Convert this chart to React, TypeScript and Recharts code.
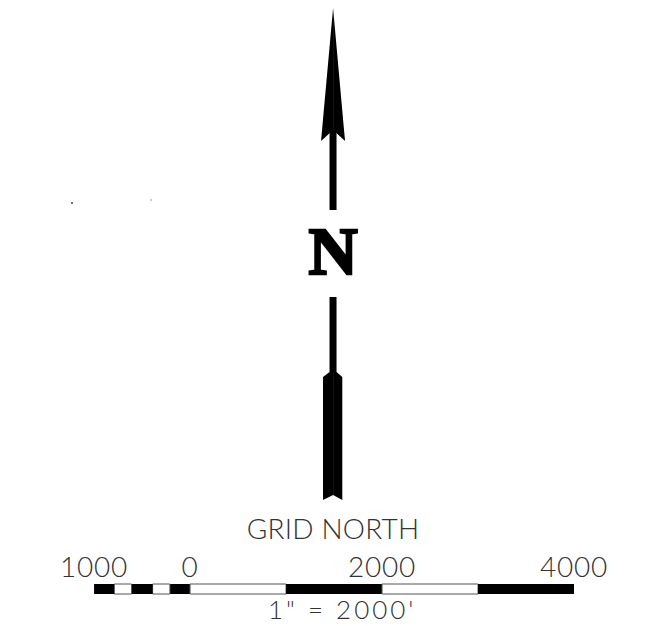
import { Area, Bar, BarChart, ComposedChart, ReferenceDot, XAxis, YAxis } from "recharts"

// horizontal position is in feet along the scale bar, vertical position is the sheet level
const levels = [8, 130, 141, 210, 297, 372, 377, 495, 500]

const headLeft = [[1490, 1490], [1375, 1490], [1365, 1365], null, null, null, null, null, null]
const headRight = [[1490, 1490], [1490, 1604], [1615, 1615], null, null, null, null, null, null]
const shaftUpper = [null, [1453, 1526], [1453, 1526], [1453, 1526], null, null, null, null, null]
const shaftLower = [null, null, null, null, [1453, 1526], [1453, 1526], null, null, null]
const tailLeft = [null, null, null, null, null, [1453, 1490], [1385, 1490], [1385, 1490], [1385, 1385]]
const tailRight = [null, null, null, null, null, [1490, 1526], [1490, 1586], [1490, 1586], [1586, 1586]]

// scale bar divisions, feet left of zero are negative
const divisions = [-210, -180, -220, -180, -210, 1000, 1000, 1000, 1000]
const divisionFill = ["#000", "#fff", "#000", "#fff", "#000", "#fff", "#000", "#fff", "#000"]
const scaleTicks = [-1000, 0, 2000, 4000]
const feetDomain = [-1980, 4750]

const captions = ["GRID NORTH", "1\" = 2000'"]
const captionX = [1490, 1585]
const captionY = [529, 610]
const captionSize = [28, 26]
const captionSpacing = [0.2, 3]

const specksX = [-1230, -406]
const specksY = [203, 200]

const rows = levels.map((y, i) => ({
  y,
  headLeft: headLeft[i],
  headRight: headRight[i],
  shaftUpper: shaftUpper[i],
  shaftLower: shaftLower[i],
  tailLeft: tailLeft[i],
  tailRight: tailRight[i],
}))

const scaleRow: Record<string, number | string> = { name: "scale" }
divisions.forEach((d, k) => (scaleRow[`div${k}`] = d))

const parts = ["headLeft", "headRight", "shaftUpper", "shaftLower", "tailLeft", "tailRight"]
const labelFont = "Lato, 'Liberation Sans', sans-serif"

export default function App() {
  return (
    <div style={{ position: "absolute", left: 0, top: 0, width: 646, height: 626, background: "#fff" }}>
      <ComposedChart
        width={646}
        height={626}
        layout="vertical"
        data={rows}
        margin={{ top: 0, right: 0, bottom: 0, left: 0 }}
      >
        <XAxis type="number" domain={feetDomain} hide allowDataOverflow />
        <YAxis type="number" dataKey="y" domain={[0, 626]} hide allowDataOverflow />
        {parts.map((p) => (
          <Area
            key={p}
            type="linear"
            dataKey={p}
            stroke="none"
            fill="#000"
            fillOpacity={1}
            dot={false}
            activeDot={false}
            isAnimationActive={false}
          />
        ))}
        <ReferenceDot
          x={1490}
          y={250}
          r={0}
          label={{
            value: "N",
            position: "center",
            fontSize: 68,
            fontWeight: 700,
            fontFamily: "'Liberation Serif', serif",
            fill: "#000",
            stroke: "#000",
            strokeWidth: 2.5,
          }}
        />
        {captions.map((c, i) => (
          <ReferenceDot
            key={c}
            x={captionX[i]}
            y={captionY[i]}
            r={0}
            label={{
              value: c,
              position: "center",
              fontSize: captionSize[i],
              fontWeight: 300,
              fontFamily: labelFont,
              fill: "#333",
              letterSpacing: captionSpacing[i],
            }}
          />
        ))}
        {specksX.map((x, i) => (
          <ReferenceDot key={x} x={x} y={specksY[i]} r={1} fill={i === 0 ? "#444" : "#bbb"} stroke="none" />
        ))}
      </ComposedChart>
      <div style={{ position: "absolute", left: 0, top: 545 }}>
        <BarChart
          width={646}
          height={60}
          layout="vertical"
          data={[scaleRow]}
          stackOffset="sign"
          margin={{ top: 0, right: 0, bottom: 0, left: 0 }}
        >
          <XAxis
            type="number"
            orientation="top"
            domain={feetDomain}
            ticks={scaleTicks}
            tickFormatter={(v: number) => String(Math.abs(v))}
            height={28}
            interval={0}
            axisLine={false}
            tickLine={false}
            tickSize={0}
            tickMargin={0}
            allowDataOverflow
            tick={{ fontSize: 28, fontFamily: labelFont, fontWeight: 300, fill: "#333", dy: 4, letterSpacing: 0.8 }}
          />
          <YAxis type="category" dataKey="name" hide />
          {divisions.map((_, k) => (
            <Bar
              key={k}
              dataKey={`div${k}`}
              stackId="scale"
              barSize={10}
              fill={divisionFill[k]}
              stroke="#555"
              strokeWidth={divisionFill[k] === "#fff" ? 1 : 0}
              isAnimationActive={false}
            />
          ))}
        </BarChart>
      </div>
    </div>
  )
}
